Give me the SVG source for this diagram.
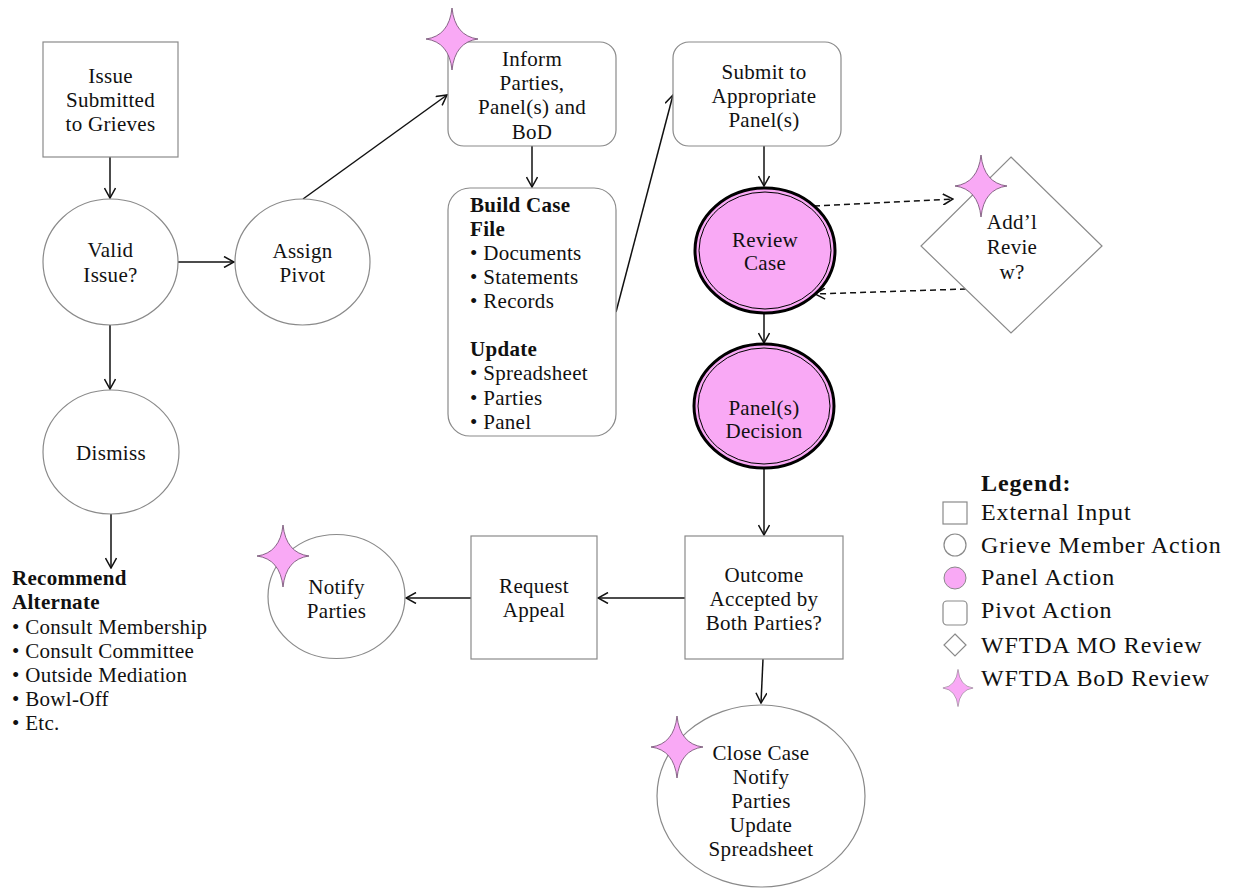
<svg xmlns="http://www.w3.org/2000/svg" width="1242" height="892" viewBox="0 0 1242 892">
<style>
text{font-family:"Liberation Serif","Times New Roman",serif;font-size:21px;letter-spacing:0.3px;fill:#111}
.c{text-anchor:middle}
.b{font-weight:bold}
.node{fill:#fff;stroke:#8a8a8a;stroke-width:1.2}
.pink{fill:#f9a9f5}
.con{stroke:#111;stroke-width:1.5;fill:none}
.dash{stroke-dasharray:6 4}
.star{fill:#f9a9f5;stroke:#6a4a6a;stroke-width:0.8}
.leg{font-size:24px;letter-spacing:0.9px}
</style>
<defs>
<marker id="arr" viewBox="0 0 12 12" refX="11" refY="6" markerWidth="12" markerHeight="12" markerUnits="userSpaceOnUse" orient="auto">
<path d="M1,0.5 L11,6 L1,11.5" fill="none" stroke="#111" stroke-width="1.5"/>
</marker>
<path id="starshape" d="M0,-31 Q3,-3 26,0 Q3,3 0,31 Q-3,3 -26,0 Q-3,-3 0,-31Z"/>
</defs>

<g id="connectors">
<line class="con" x1="110" y1="157" x2="110" y2="198" marker-end="url(#arr)"/>
<line class="con" x1="178" y1="262" x2="234" y2="262" marker-end="url(#arr)"/>
<line class="con" x1="110" y1="325" x2="110" y2="389" marker-end="url(#arr)"/>
<line class="con" x1="111" y1="514" x2="111" y2="568" marker-end="url(#arr)"/>
<line class="con" x1="303" y1="199" x2="447" y2="95" marker-end="url(#arr)"/>
<line class="con" x1="532" y1="146" x2="532" y2="187" marker-end="url(#arr)"/>
<line class="con" x1="616" y1="312" x2="673" y2="95" marker-end="url(#arr)"/>
<line class="con" x1="764" y1="146" x2="764" y2="186" marker-end="url(#arr)"/>
<line class="con dash" x1="814" y1="206" x2="953" y2="199" marker-end="url(#arr)"/>
<line class="con dash" x1="966" y1="289" x2="815" y2="294" marker-end="url(#arr)"/>
<line class="con" x1="764" y1="313" x2="764" y2="343" marker-end="url(#arr)"/>
<line class="con" x1="764" y1="468" x2="764" y2="535" marker-end="url(#arr)"/>
<line class="con" x1="685" y1="598" x2="598" y2="598" marker-end="url(#arr)"/>
<line class="con" x1="471" y1="598" x2="406" y2="598" marker-end="url(#arr)"/>
<line class="con" x1="763" y1="659" x2="761" y2="703" marker-end="url(#arr)"/>
</g>

<g id="issue-submitted">
<rect class="node" x="43" y="42" width="135" height="115"/>
<text class="c" x="110.5" y="83">Issue</text>
<text class="c" x="110.5" y="107">Submitted</text>
<text class="c" x="110.5" y="131">to Grieves</text>
</g>

<g id="valid-issue">
<ellipse class="node" cx="110.5" cy="262" rx="67.5" ry="63"/>
<text class="c" x="110.5" y="257">Valid</text>
<text class="c" x="110.5" y="282">Issue?</text>
</g>

<g id="assign-pivot">
<ellipse class="node" cx="302.5" cy="262" rx="67.5" ry="63"/>
<text class="c" x="302.5" y="258">Assign</text>
<text class="c" x="302.5" y="282">Pivot</text>
</g>

<g id="dismiss">
<ellipse class="node" cx="111" cy="452" rx="68" ry="62"/>
<text class="c" x="111" y="460">Dismiss</text>
</g>

<g id="recommend-alternate">
<text class="b" x="12" y="585">Recommend</text>
<text class="b" x="12" y="609">Alternate</text>
<text x="12" y="634">• Consult Membership</text>
<text x="12" y="658">• Consult Committee</text>
<text x="12" y="682">• Outside Mediation</text>
<text x="12" y="706">• Bowl-Off</text>
<text x="12" y="730">• Etc.</text>
</g>

<g id="inform-parties">
<rect class="node" x="448" y="42" width="168" height="104" rx="16"/>
<text class="c" x="532" y="66">Inform</text>
<text class="c" x="532" y="90">Parties,</text>
<text class="c" x="532" y="114">Panel(s) and</text>
<text class="c" x="532" y="139">BoD</text>
<use href="#starshape" class="star" x="452" y="39"/>
</g>

<g id="build-case-file">
<rect class="node" x="448" y="188" width="168" height="248" rx="22"/>
<text class="b" x="470" y="212">Build Case</text>
<text class="b" x="470" y="236">File</text>
<text x="470" y="260">• Documents</text>
<text x="470" y="284">• Statements</text>
<text x="470" y="308">• Records</text>
<text class="b" x="470" y="356">Update</text>
<text x="470" y="380">• Spreadsheet</text>
<text x="470" y="405">• Parties</text>
<text x="470" y="429">• Panel</text>
</g>

<g id="submit-panel">
<rect class="node" x="673" y="42" width="168" height="104" rx="16"/>
<text class="c" x="764" y="79">Submit to</text>
<text class="c" x="764" y="103">Appropriate</text>
<text class="c" x="764" y="127">Panel(s)</text>
</g>

<g id="review-case">
<ellipse cx="765" cy="250.5" rx="70" ry="62.5" class="pink" stroke="#000" stroke-width="3"/>
<ellipse cx="765" cy="250.5" rx="66" ry="58.5" fill="none" stroke="#000" stroke-width="1"/>
<text class="c" x="765" y="247">Review</text>
<text class="c" x="765" y="270">Case</text>
</g>

<g id="panel-decision">
<ellipse cx="764" cy="406" rx="70" ry="62" class="pink" stroke="#000" stroke-width="3"/>
<ellipse cx="764" cy="406" rx="66" ry="58" fill="none" stroke="#000" stroke-width="1"/>
<text class="c" x="764" y="415">Panel(s)</text>
<text class="c" x="764" y="438">Decision</text>
</g>

<g id="addl-review">
<polygon class="node" points="1011,157 1102,246 1011,333 921,246"/>
<text class="c" x="1012" y="229">Add’l</text>
<text class="c" x="1012" y="254">Revie</text>
<text class="c" x="1012" y="279">w?</text>
<use href="#starshape" class="star" x="981" y="186"/>
</g>

<g id="outcome">
<rect class="node" x="685" y="536" width="158" height="123"/>
<text class="c" x="764" y="582">Outcome</text>
<text class="c" x="764" y="606">Accepted by</text>
<text class="c" x="764" y="630">Both Parties?</text>
</g>

<g id="request-appeal">
<rect class="node" x="471" y="536" width="126" height="123"/>
<text class="c" x="534" y="593">Request</text>
<text class="c" x="534" y="617">Appeal</text>
</g>

<g id="notify-parties">
<ellipse class="node" cx="336.5" cy="596.5" rx="68.5" ry="62"/>
<text class="c" x="336.5" y="594">Notify</text>
<text class="c" x="336.5" y="618">Parties</text>
<use href="#starshape" class="star" x="283" y="556"/>
</g>

<g id="close-case">
<ellipse class="node" cx="761" cy="796" rx="104" ry="91"/>
<text class="c" x="761" y="760">Close Case</text>
<text class="c" x="761" y="784">Notify</text>
<text class="c" x="761" y="808">Parties</text>
<text class="c" x="761" y="832">Update</text>
<text class="c" x="761" y="856">Spreadsheet</text>
<use href="#starshape" class="star" x="677" y="747"/>
</g>

<g id="legend">
<text class="leg b" x="981" y="491">Legend:</text>
<rect class="node" x="943" y="502" width="24" height="22"/>
<text class="leg" x="981" y="520">External Input</text>
<circle class="node" cx="955" cy="545" r="11"/>
<text class="leg" x="981" y="553">Grieve Member Action</text>
<circle cx="955" cy="578" r="11" class="pink" stroke="#8a8a8a" stroke-width="1"/>
<text class="leg" x="981" y="585">Panel Action</text>
<rect class="node" x="943" y="601" width="24" height="24" rx="4"/>
<text class="leg" x="981" y="618">Pivot Action</text>
<polygon class="node" points="955,634 966,645 955,656 944,645"/>
<text class="leg" x="981" y="653">WFTDA MO Review</text>
<use href="#starshape" class="star" transform="translate(958,688) scale(0.58,0.6)"/>
<text class="leg" x="981" y="686">WFTDA BoD Review</text>
</g>
</svg>
